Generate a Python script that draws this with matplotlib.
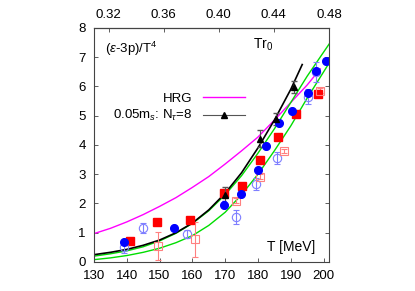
import matplotlib
matplotlib.use("Agg")
import matplotlib.pyplot as plt
from matplotlib.lines import Line2D

plt.rcParams["font.family"] = ["Liberation Sans", "DejaVu Sans"]
plt.rcParams["font.size"] = 9.5
plt.rcParams["mathtext.fontset"] = "custom"
plt.rcParams["mathtext.rm"] = "Liberation Sans"
plt.rcParams["mathtext.it"] = "Liberation Sans:italic"

# curves
hrg_T = [130, 135, 140, 145, 150, 155, 160, 165, 170, 175, 180, 185, 190, 195, 199]
hrg_y = [0.97, 1.15, 1.37, 1.62, 1.9, 2.2, 2.55, 2.92, 3.35, 3.8, 4.27, 4.85, 5.45, 6.05, 6.6]

fit_T = [130, 135, 140, 145, 150, 155, 160, 165, 170, 175, 180, 185, 190, 193.5]
fit_y = [0.25, 0.33, 0.43, 0.57, 0.75, 1.0, 1.33, 1.78, 2.35, 3.05, 3.9, 4.85, 5.9, 6.75]

green_T = [130, 135, 140, 145, 150, 155, 160, 165, 170, 175, 180, 185, 190, 195, 201.7]
green_hi = [0.2, 0.28, 0.38, 0.52, 0.72, 0.98, 1.32, 1.75, 2.3, 2.95, 3.72, 4.55, 5.45, 6.35, 7.45]
green_lo = [0.08, 0.14, 0.22, 0.33, 0.47, 0.66, 0.9, 1.25, 1.7, 2.3, 3.0, 3.8, 4.65, 5.6, 6.8]

# data points
blue_T = [139.2, 154.3, 169.6, 174.9, 180.1, 182.5, 186.4, 190.3, 195.4, 197.6, 200.7]
blue_y = [0.70, 1.17, 1.95, 2.31, 3.13, 3.97, 4.76, 5.17, 5.77, 6.52, 6.88]
blue_e = [0.1, 0.1, 0.12, 0.1, 0.1, 0.1, 0.1, 0.1, 0.1, 0.1, 0.1]

red_T = [140.9, 149.2, 159.2, 169.7, 175.1, 180.5, 186.2, 191.6, 198.4]
red_y = [0.72, 1.36, 1.44, 2.36, 2.6, 3.49, 4.26, 5.06, 5.75]

oblue_T = [139.2, 145.0, 158.4, 173.4, 179.5, 185.7, 195.3, 197.8]
oblue_y = [0.50, 1.17, 0.96, 1.53, 2.67, 3.55, 5.65, 6.5]
oblue_e = [0.2, 0.18, 0.15, 0.24, 0.2, 0.2, 0.25, 0.35]

ored_T = [149.4, 160.7, 173.3, 180.7, 187.8, 199.0]
ored_y = [0.55, 0.77, 2.1, 2.92, 3.8, 5.86]
ored_e = [0.48, 0.6, 0.08, 0.08, 0.08, 0.08]

tri_T = [169.9, 180.6, 185.6, 191.0]
tri_y = [2.28, 4.22, 4.88, 5.98]
tri_e = [0.3, 0.3, 0.2, 0.2]

xticks = [130, 140, 150, 160, 170, 180, 190, 200]
top_ticks = [0.32, 0.36, 0.40, 0.44, 0.48]
r0_conv = 0.4697 / 197.33


def main():
    fig = plt.figure(figsize=(4.15, 2.91), dpi=100)
    ax = fig.add_axes([0.2265, 0.0997, 0.5665, 0.8041])

    ax.plot(hrg_T, hrg_y, color="#ff00ff", lw=1.0)
    ax.plot(green_T, green_hi, color="#00dd00", lw=1.0)
    ax.plot(green_T, green_lo, color="#00dd00", lw=1.0)
    ax.plot(fit_T, fit_y, color="black", lw=1.2)

    ax.errorbar(oblue_T, oblue_y, yerr=oblue_e, fmt="o", ms=6, mfc="none",
                mec="#7f7fff", ecolor="#7f7fff", capsize=2, lw=0.8, mew=0.8)
    ax.errorbar(ored_T, ored_y, yerr=ored_e, fmt="s", ms=6, mfc="none",
                mec="#ff8080", ecolor="#ff8080", capsize=2, lw=0.8, mew=0.8)
    ax.errorbar(blue_T, blue_y, yerr=blue_e, fmt="o", ms=5.5, color="#0000ff",
                capsize=1.5, lw=0.8)
    ax.plot(red_T, red_y, "s", ms=5.5, color="#ff0000")
    ax.errorbar(tri_T, tri_y, yerr=tri_e, fmt="^", ms=5, color="black",
                ecolor="#555555", capsize=2, lw=0.8)

    ax.set_xlim(130, 0.4801 / r0_conv)
    ax.set_ylim(0, 8)
    ax.set_xticks(xticks)
    ax.set_yticks(range(9))
    ax.tick_params(direction="in", top=False, right=True, length=3, width=0.6,
                   color="#444444")
    ax.tick_params(axis="x", pad=6)
    ax.tick_params(axis="y", pad=6)
    for s in ax.spines.values():
        s.set_color("#444444")
        s.set_linewidth(0.8)

    top = ax.secondary_xaxis("top", functions=(lambda t: t * r0_conv,
                                               lambda u: u / r0_conv))
    top.set_xticks(top_ticks)
    top.set_xticklabels([f"{v:.2f}" for v in top_ticks])
    top.tick_params(direction="in", length=3, width=0.6, color="#444444", pad=5)

    ax.text(0.045, 0.91, r"($\epsilon$-3p)/T$^4$", transform=ax.transAxes,
            ha="left", va="center")
    ax.text(0.72, 0.93, r"Tr$_0$", transform=ax.transAxes, ha="center",
            va="center", fontsize=10)
    ax.text(0.94, 0.065, "T [MeV]", transform=ax.transAxes, ha="right",
            va="center", fontsize=10)

    handles = [
        Line2D([], [], color="#ff00ff", lw=1.0),
        Line2D([], [], color="#555555", lw=0.8, marker="^", mfc="black",
               mec="black", ms=5),
    ]
    labels = ["HRG", r"0.05m$_s$: N$_\tau$=8"]
    ax.legend(handles, labels, loc="center right", bbox_to_anchor=(0.665, 0.658),
              frameon=False, markerfirst=False, handlelength=3.2,
              handletextpad=0.8, labelspacing=0.25, borderaxespad=0)

    fig.savefig("out.png", dpi=100)
    plt.close(fig)


if __name__ == "__main__":
    main()
